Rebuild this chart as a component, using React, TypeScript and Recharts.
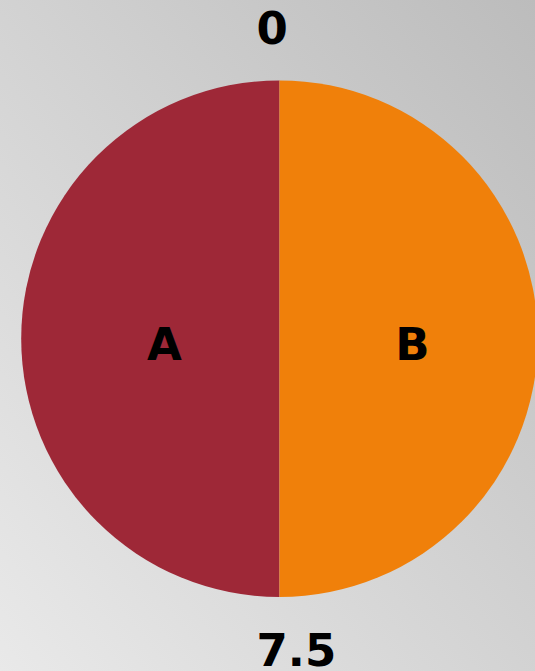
import React from "react";
import { PieChart, Pie, Cell } from "recharts";

const categories = ["A", "B"];
const values = [7.5, 7.5];
const colors = ["#9E2837", "#F0800A"];
const tickLabels = ["0", "7.5"];

const data = categories.map((name, i) => ({ name, value: values[i] }));

const RAD = Math.PI / 180;
const FONT = "'DejaVu Sans', sans-serif";

const renderNameLabel = (props: any) => {
  const { cx, cy, midAngle, outerRadius, index } = props;
  const r = outerRadius * 0.48;
  const x = cx + r * Math.cos(-midAngle * RAD) + 9;
  const y = cy + r * Math.sin(-midAngle * RAD);
  return (
    <text
      key={`n-${index}`}
      x={x}
      y={y + 21}
      textAnchor="middle"
      fontFamily={FONT}
      fontWeight="bold"
      fontSize={45}
      fill="#000"
    >
      {categories[index]}
    </text>
  );
};

const renderTickLabel = (props: any) => {
  const { cx, cy, startAngle, index } = props;
  const r = 311;
  const x = cx + r * Math.cos(-startAngle * RAD);
  const y = cy + r * Math.sin(-startAngle * RAD);
  return (
    <text
      key={`t-${index}`}
      x={x - 23}
      y={y + 16.5}
      textAnchor="start"
      fontFamily={FONT}
      fontWeight="bold"
      fontSize={45}
      fill="#000"
    >
      {tickLabels[index]}
    </text>
  );
};

export default function App() {
  return (
    <div
      style={{
        position: "fixed",
        left: 0,
        top: 0,
        width: 535,
        height: 671,
        overflow: "hidden",
        background: "linear-gradient(to top right, #e9e9e9, #bcbcbc)",
      }}
    >
      <PieChart width={535} height={671} margin={{ top: 0, right: 0, bottom: 0, left: 0 }}>
        <Pie
          data={data}
          dataKey="value"
          nameKey="name"
          cx={279.5}
          cy={338.7}
          outerRadius={258.3}
          startAngle={90}
          endAngle={450}
          stroke="none"
          isAnimationActive={false}
          labelLine={false}
          label={renderNameLabel}
        >
          {data.map((d, i) => (
            <Cell key={d.name} fill={colors[i]} stroke="none" />
          ))}
        </Pie>
        <Pie
          data={data}
          dataKey="value"
          nameKey="name"
          cx={279.5}
          cy={338.7}
          outerRadius={258.3}
          startAngle={90}
          endAngle={450}
          fill="none"
          stroke="none"
          isAnimationActive={false}
          labelLine={false}
          label={renderTickLabel}
        >
          {data.map((d) => (
            <Cell key={`t-${d.name}`} fill="none" stroke="none" />
          ))}
        </Pie>
      </PieChart>
    </div>
  );
}
